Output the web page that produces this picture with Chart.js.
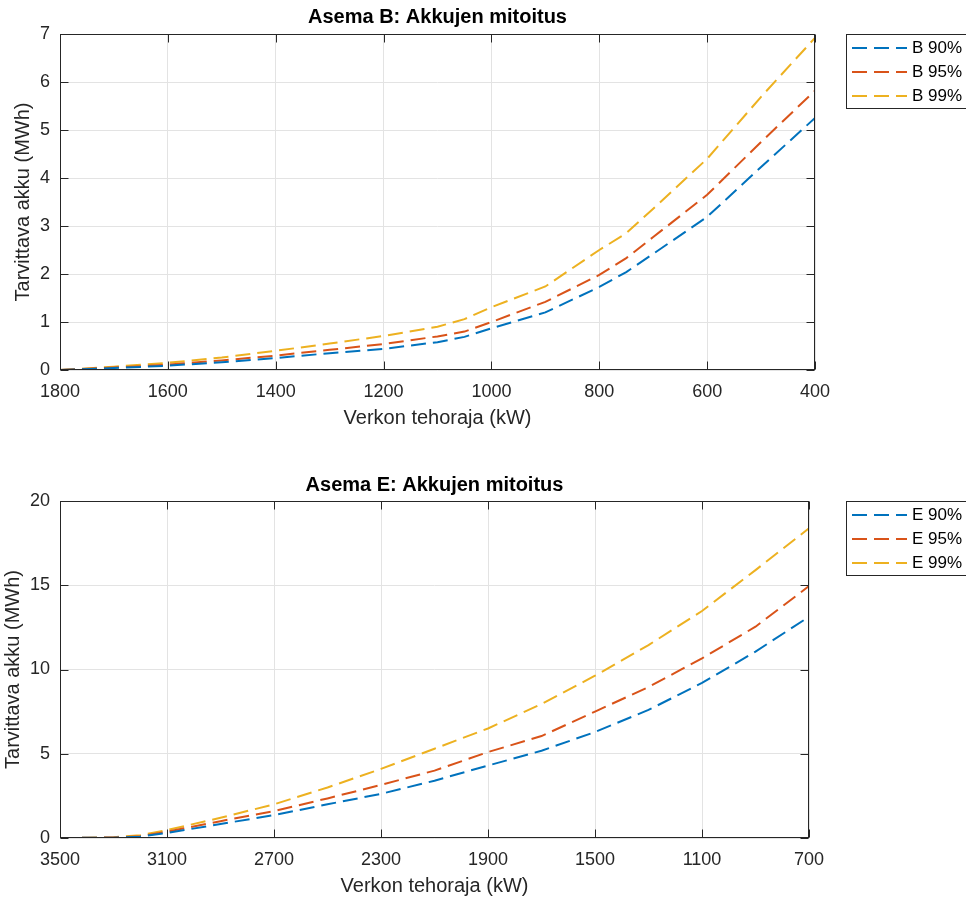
<!DOCTYPE html>
<html>
<head>
<meta charset="utf-8">
<script src="https://cdn.jsdelivr.net/npm/chart.js@4.4.1/dist/chart.umd.min.js"></script>
<style>
  body { margin: 0; background: #fff; }
  .box { position: absolute; left: 0; width: 966px; height: 450px; }
</style>
</head>
<body>
<div class="box" style="top:0"><canvas id="chartB"></canvas></div>
<div class="box" style="top:450px"><canvas id="chartE"></canvas></div>
<script>
// Asema B
const bPower = [1800, 1700, 1600, 1500, 1400, 1300, 1200, 1100, 1050, 1000, 900, 800, 750, 700, 600, 500, 400]
const b90 = [0, 0.04, 0.09, 0.16, 0.25, 0.35, 0.44, 0.58, 0.69, 0.87, 1.2, 1.73, 2.04, 2.42, 3.19, 4.23, 5.25]
const b95 = [0, 0.05, 0.11, 0.2, 0.3, 0.42, 0.54, 0.7, 0.8, 1.0, 1.42, 1.98, 2.33, 2.77, 3.65, 4.75, 5.82]
const b99 = [0, 0.07, 0.15, 0.26, 0.4, 0.55, 0.71, 0.9, 1.06, 1.31, 1.74, 2.5, 2.85, 3.36, 4.4, 5.69, 6.92]

// Asema E
const ePower = [3500, 3400, 3300, 3200, 3100, 2900, 2700, 2500, 2300, 2100, 1900, 1700, 1500, 1300, 1100, 900, 700]
const e90 = [0, 0.01, 0.02, 0.08, 0.3, 0.83, 1.36, 2.0, 2.62, 3.4, 4.3, 5.18, 6.29, 7.6, 9.2, 11.06, 13.13]
const e95 = [0, 0.01, 0.03, 0.1, 0.37, 1.0, 1.6, 2.35, 3.15, 4.0, 5.1, 6.05, 7.5, 8.96, 10.66, 12.54, 14.95]
const e99 = [0, 0.01, 0.05, 0.16, 0.47, 1.2, 2.0, 3.0, 4.1, 5.3, 6.5, 7.95, 9.63, 11.45, 13.47, 15.9, 18.38]

const colors = ["#0072BD", "#D95319", "#EDB120"]
const axisColor = "#262626"
const fontFamily = "'Liberation Sans', Arial, Helvetica, sans-serif"

function series(label, xs, ys, i) {
  return {
    label: label,
    data: xs.map((x, k) => ({ x: x, y: ys[k] })),
    borderColor: colors[i],
    borderWidth: 2,
    borderDash: [15, 7],
    pointRadius: 0,
    fill: false,
    tension: 0
  }
}

// box around the axes, inward tick marks and the legend box on the right
const frame = {
  id: "frame",
  afterDraw(chart) {
    const { ctx, chartArea: a, scales } = chart
    const l = Math.round(a.left) + 0.5, r = Math.round(a.right) - 0.5
    const t = Math.round(a.top) + 0.5, b = Math.round(a.bottom) - 0.5
    ctx.save()
    ctx.setLineDash([])
    ctx.strokeStyle = axisColor
    ctx.lineWidth = 1
    ctx.strokeRect(l, t, r - l, b - t)
    ctx.beginPath()
    scales.x.ticks.forEach((tk) => {
      const px = Math.round(scales.x.getPixelForValue(tk.value)) + 0.5
      ctx.moveTo(px, b); ctx.lineTo(px, b - 8)
      ctx.moveTo(px, t); ctx.lineTo(px, t + 8)
    })
    scales.y.ticks.forEach((tk) => {
      const py = Math.round(scales.y.getPixelForValue(tk.value)) + 0.5
      ctx.moveTo(l, py); ctx.lineTo(l + 8, py)
      ctx.moveTo(r, py); ctx.lineTo(r - 8, py)
    })
    ctx.stroke()

    const lx = 846, ly = Math.round(a.top)
    ctx.fillStyle = "#fff"
    ctx.fillRect(lx, ly, 130, 75)
    ctx.strokeStyle = axisColor
    ctx.strokeRect(lx + 0.5, ly + 0.5, 130, 74)
    ctx.font = "17px " + fontFamily
    ctx.textBaseline = "middle"
    ctx.textAlign = "left"
    chart.data.datasets.forEach((ds, i) => {
      const y = ly + 14 + i * 24
      ctx.strokeStyle = ds.borderColor
      ctx.lineWidth = ds.borderWidth
      ctx.setLineDash(ds.borderDash)
      ctx.beginPath()
      ctx.moveTo(852, y); ctx.lineTo(907, y)
      ctx.stroke()
      ctx.fillStyle = "#000"
      ctx.fillText(ds.label, 912, y)
    })
    ctx.restore()
  }
}

function makeChart(id, cfg) {
  return new Chart(document.getElementById(id), {
    type: "line",
    data: { datasets: cfg.datasets },
    options: {
      responsive: true,
      maintainAspectRatio: false,
      animation: false,
      layout: { padding: cfg.padding },
      plugins: {
        legend: { display: false },
        tooltip: { enabled: false },
        title: {
          display: true,
          text: cfg.title,
          fullSize: false,
          color: "#000",
          font: { family: fontFamily, size: 20, weight: "bold" },
          padding: cfg.titlePad
        }
      },
      scales: {
        x: {
          type: "linear",
          reverse: true,
          min: cfg.xMin,
          max: cfg.xMax,
          afterFit: (s) => { s.height = 60.5 },
          ticks: {
            stepSize: cfg.xStep,
            color: axisColor,
            padding: 11,
            font: { family: fontFamily, size: 18 },
            callback: (v) => String(v)
          },
          grid: { color: "#e3e3e3", drawTicks: false },
          border: { display: false },
          title: {
            display: true,
            text: "Verkon tehoraja (kW)",
            color: axisColor,
            padding: 0,
            font: { family: fontFamily, size: 20 }
          }
        },
        y: {
          min: 0,
          max: cfg.yMax,
          afterFit: (s) => { s.width = cfg.yWidth },
          ticks: {
            stepSize: cfg.yStep,
            color: axisColor,
            padding: 10,
            font: { family: fontFamily, size: 18 },
            callback: (v) => String(v)
          },
          grid: { color: "#e3e3e3", drawTicks: false },
          border: { display: false },
          title: {
            display: true,
            text: "Tarvittava akku (MWh)",
            color: axisColor,
            padding: 0,
            font: { family: fontFamily, size: 20 }
          }
        }
      }
    },
    plugins: [frame]
  })
}

makeChart("chartB", {
  title: "Asema B: Akkujen mitoitus",
  datasets: [
    series("B 90%", bPower, b90, 0),
    series("B 95%", bPower, b95, 1),
    series("B 99%", bPower, b99, 2)
  ],
  padding: { top: 0, left: 11.5, right: 151, bottom: 19.5 },
  titlePad: { top: 5, bottom: 5 },
  xMin: 400, xMax: 1800, xStep: 200,
  yMax: 7, yStep: 1, yWidth: 48.5
})

makeChart("chartE", {
  title: "Asema E: Akkujen mitoitus",
  datasets: [
    series("E 90%", ePower, e90, 0),
    series("E 95%", ePower, e95, 1),
    series("E 99%", ePower, e99, 2)
  ],
  padding: { top: 18, left: 1.5, right: 157, bottom: 1.5 },
  titlePad: { top: 5, bottom: 4 },
  xMin: 700, xMax: 3500, xStep: 400,
  yMax: 20, yStep: 5, yWidth: 58.5
})
</script>
</body>
</html>
